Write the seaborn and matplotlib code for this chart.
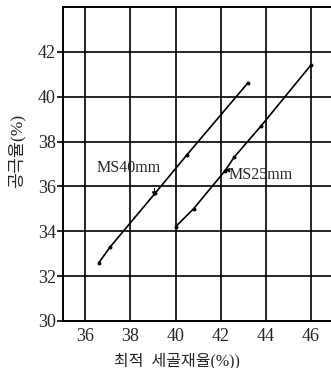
import matplotlib
matplotlib.use("Agg")
import matplotlib.pyplot as plt
import seaborn as sns
import pandas as pd

# Measured points: optimum fine-aggregate ratio (%) vs. void ratio (%)
ms40_x = [36.6, 37.1, 39.1, 40.5, 43.2]
ms40_y = [32.6, 33.3, 35.7, 37.4, 40.6]
ms25_x = [40.0, 40.8, 42.2, 42.6, 43.8, 46.0]
ms25_y = [34.2, 35.0, 36.7, 37.3, 38.7, 41.4]

x_ticks = [36, 38, 40, 42, 44, 46]
y_ticks = [30, 32, 34, 36, 38, 40, 42]

df = pd.concat([
    pd.DataFrame({"x": ms40_x, "y": ms40_y, "series": "MS40mm"}),
    pd.DataFrame({"x": ms25_x, "y": ms25_y, "series": "MS25mm"}),
])

sns.set_theme(style="white")
plt.rcParams["font.family"] = ["Liberation Serif", "Noto Sans CJK KR", "DejaVu Sans"]

fig = plt.figure(figsize=(3.31, 3.68), dpi=100)
ax = fig.add_axes([0.19, 0.128, 0.81, 0.853])

sns.lineplot(data=df, x="x", y="y", units="series", estimator=None,
             color="black", linewidth=1.2, sort=True, ax=ax)
sns.scatterplot(data=df, x="x", y="y", color="black", s=8,
                edgecolor="black", linewidth=0, ax=ax)

ax.set_xlim(35.0, 46.9)
ax.set_ylim(30, 44)
ax.set_xticks(x_ticks)
ax.set_yticks(y_ticks)
ax.grid(True, color="black", linewidth=1.2)
ax.set_axisbelow(True)
for side in ["left", "bottom", "top"]:
    ax.spines[side].set_color("black")
    ax.spines[side].set_linewidth(1.4)
ax.spines["right"].set_visible(False)
ax.tick_params(axis="y", length=4, width=1.2, color="black", labelsize=13, pad=1)
ax.tick_params(axis="x", length=0, labelsize=13, pad=5)
ax.tick_params(left=True, bottom=False)

ax.set_xlabel("최적  세골재율(%))", fontsize=11.5, labelpad=2)
ax.xaxis.set_label_coords(0.425, -0.1)
ax.set_ylabel("공극율(%)", fontsize=12.5, labelpad=2)
ax.yaxis.set_label_coords(-0.14, 0.54)

ax.annotate("MS40mm", xy=(39.05, 35.55), xytext=(37.9, 36.8),
            fontsize=11.5, ha="center", va="center",
            arrowprops=dict(arrowstyle="-|>", color="black", lw=0.8,
                            mutation_scale=6,
                            connectionstyle="angle,angleA=0,angleB=90,rad=0",
                            shrinkA=6, shrinkB=0))
ax.annotate("MS25mm", xy=(42.2, 36.75), xytext=(42.35, 36.5),
            fontsize=11.5, ha="left", va="center",
            arrowprops=dict(arrowstyle="-|>", color="black", lw=0.8,
                            mutation_scale=6, shrinkA=0, shrinkB=0))

fig.savefig("out.png", dpi=100)
